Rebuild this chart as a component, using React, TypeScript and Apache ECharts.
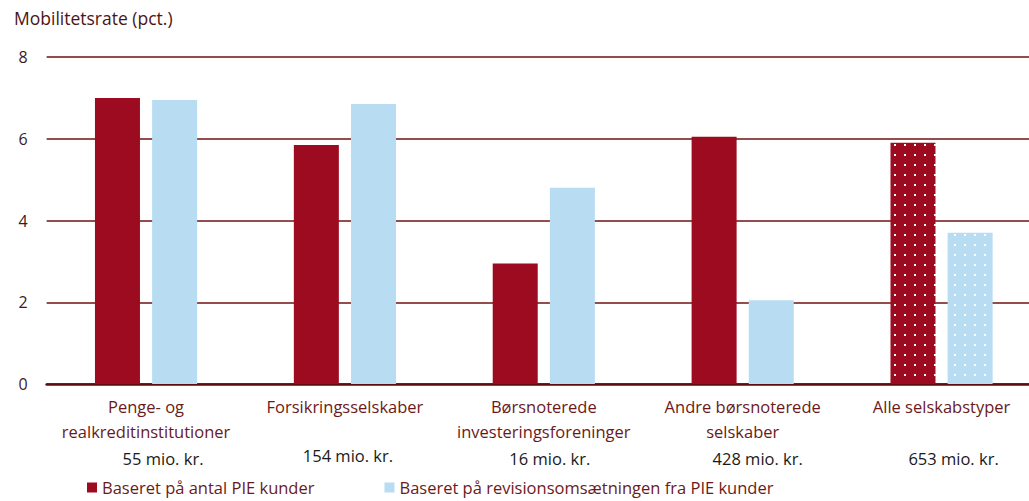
import React, { useEffect, useRef } from "react";
import * as echarts from "echarts";

const categoryLines: string[][] = [
  ["Penge- og", "realkreditinstitutioner"],
  ["Forsikringsselskaber"],
  ["Børsnoterede", "investeringsforeninger"],
  ["Andre børsnoterede", "selskaber"],
  ["Alle selskabstyper"],
];
const amounts = ["55 mio. kr.", "154 mio. kr.", "16 mio. kr.", "428 mio. kr.", "653 mio. kr."];
const seriesNames = [
  "Baseret på antal PIE kunder",
  "Baseret på revisionsomsætningen fra PIE kunder",
];
const antalValues = [7.0, 5.85, 2.95, 6.05, 5.9];
const omsaetningValues = [6.95, 6.85, 4.8, 2.05, 3.7];
const yTicks = [0, 2, 4, 6, 8];

// label layout tweaks
const amountShift = [17, 3, 6, 15, 12];
const amountLineHeight = [29, 22, 29, 29, 29];

const DARK = "#9c0b1f";
const LIGHT = "#b8dcf2";
const MAROON = "#6b1a1a";
const FONT = "Open Sans";
const W = 1041;

function makePattern(base: string) {
  const c = document.createElement("canvas");
  c.width = 10;
  c.height = 10;
  const ctx = c.getContext("2d")!;
  ctx.fillStyle = base;
  ctx.fillRect(0, 0, 10, 10);
  ctx.fillStyle = "#ffffff";
  ctx.fillRect(4, 4, 2, 2);
  return { image: c, repeat: "repeat" as const };
}

export default function App() {
  const ref = useRef<HTMLDivElement>(null);
  useEffect(() => {
    if (!ref.current) return;
    const chart = echarts.init(ref.current, null, { renderer: "svg" });
    const cats = categoryLines.map((_, i) => String(i));
    const rich: any = {
      n: { color: MAROON, fontSize: 16.5, lineHeight: 25, fontFamily: FONT },
    };
    amountShift.forEach((s, i) => {
      rich["a" + i] = {
        color: "#1a1a1a",
        fontSize: 16.5,
        lineHeight: amountLineHeight[i],
        fontFamily: FONT,
        padding: [0, 0, 0, s * 2],
      };
    });
    const patDark = makePattern(DARK);
    const patLight = makePattern(LIGHT);
    const last = antalValues.length - 1;
    chart.setOption({
      animation: false,
      textStyle: { fontFamily: FONT },
      grid: { left: 46.6, right: 0, top: 57, bottom: 117 },
      title: {
        text: "Mobilitetsrate (pct.)",
        left: 9,
        top: 4,
        textStyle: { color: "#4a1515", fontSize: 17.5, fontWeight: "normal", fontFamily: FONT },
      },
      legend: {
        bottom: 0,
        left: 82,
        itemWidth: 10,
        itemHeight: 10,
        itemGap: 70,
        icon: "rect",
        textStyle: { color: MAROON, fontSize: 16.5, fontFamily: FONT },
        data: seriesNames,
      },
      xAxis: {
        type: "category",
        data: cats,
        axisTick: { show: false },
        axisLine: { lineStyle: { color: "#5e0d0d", width: 2.5 } },
        axisLabel: {
          margin: 10,
          interval: 0,
          formatter: (v: string) => {
            const i = Number(v);
            const lines = categoryLines[i];
            const l2 = lines.length > 1 ? lines[1] : " ";
            return `{n|${lines[0]}}\n{n|${l2}}\n{a${i}|${amounts[i]}}`;
          },
          rich,
        },
      },
      yAxis: {
        type: "value",
        min: 0,
        max: 8,
        interval: 2,
        axisLine: { show: false },
        axisTick: { show: false },
        axisLabel: {
          margin: 19,
          color: "#3d1a1a",
          fontSize: 16,
          fontFamily: FONT,
          formatter: (v: number) => (yTicks.includes(v) ? String(v) : ""),
        },
        splitLine: { lineStyle: { color: "#701212", width: 1.5 } },
      },
      series: [
        {
          name: seriesNames[0],
          type: "bar",
          barWidth: 45,
          barGap: "27%",
          itemStyle: { color: DARK },
          data: antalValues.map((v, i) =>
            i === last ? { value: v, itemStyle: { color: patDark } } : v
          ),
        },
        {
          name: seriesNames[1],
          type: "bar",
          barWidth: 45,
          barGap: "27%",
          itemStyle: { color: LIGHT },
          data: omsaetningValues.map((v, i) =>
            i === last ? { value: v, itemStyle: { color: patLight } } : v
          ),
        },
      ],
    });
    return () => chart.dispose();
  }, []);
  return (
    <div style={{ position: "fixed", left: 0, top: 0, width: 1029, height: 501, overflow: "hidden", background: "#fff" }}>
      <div ref={ref} style={{ width: W, height: 501 }} />
    </div>
  );
}
